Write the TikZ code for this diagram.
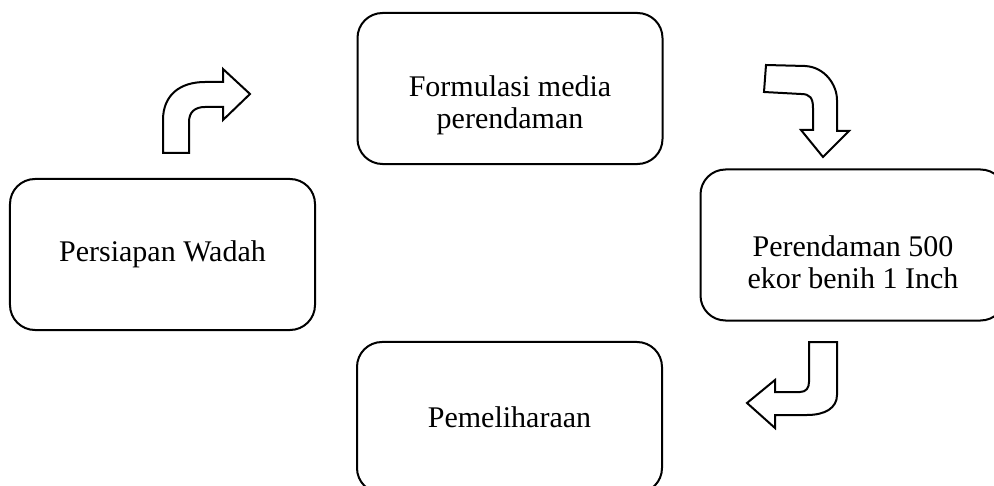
\documentclass[tikz,border=0pt]{standalone}
\usepackage{fontspec}
\setmainfont{Liberation Serif}
\usetikzlibrary{positioning}

\newcommand{\atas}{\rule{0pt}{22pt}}
\tikzset{
  tahap/.style={draw, line width=0.8pt, rounded corners=10pt, align=center,
    minimum width=122pt, minimum height=60.4pt, inner sep=2pt,
    font=\fontsize{12}{12.8}\selectfont},
  panah/.style={draw, line width=0.8pt, fill=white, line join=miter}
}

\begin{document}
\begin{tikzpicture}[x=0.4pt, y=-0.4pt]
    \useasboundingbox (0,0) rectangle (994,486);
    % Kotak tahapan
    \node[tahap] (wadah) at (162.5,254.5) {Persiapan Wadah};
    \node[tahap] (media) at (510,88.5) {\atas Formulasi media\\perendaman};
    \node[tahap] (rendam) at (853,245) {\atas Perendaman 500\\ekor benih 1 Inch};
    \node[tahap] (pelihara) at (509.5,417.5) {Pemeliharaan};
    % Panah 1: wadah ke media
    \draw[panah] (163,153) -- (163,120) .. controls (163,95) and (180,82) .. (205,82)
        -- (223,82) -- (223,69) -- (250,94) -- (223,120) -- (223,107) -- (205,107)
        .. controls (195,107) and (189,112) .. (189,122) -- (189,153) -- cycle;
    % Panah 2: media ke rendam
    \draw[panah] (766,65) -- (805,66) .. controls (825,67) and (837,85) .. (837,100)
        -- (837,131) -- (849,131) -- (823,157) -- (801,130) -- (813,130) -- (813,108)
        .. controls (813,98) and (810,94) .. (801,94) -- (764,92) -- cycle;
    % Panah 3: rendam ke pelihara
    \draw[panah] (837,342) -- (837,395) .. controls (837,408) and (825,415) .. (807,415)
        -- (775,415) -- (775,428) -- (747,403) -- (775,380) -- (775,392) -- (800,392)
        .. controls (806,392) and (809,388) .. (809,382) -- (809,342) -- cycle;
\end{tikzpicture}
\end{document}
